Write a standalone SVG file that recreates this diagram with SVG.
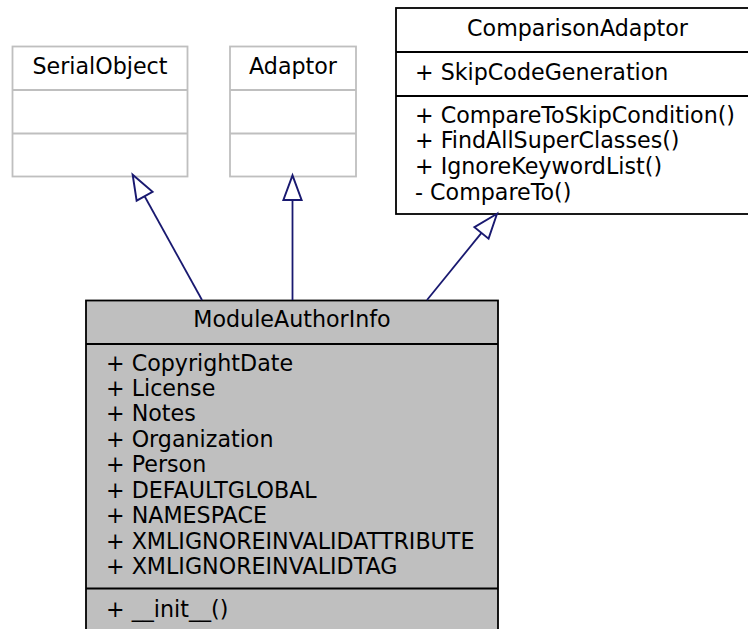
<svg xmlns="http://www.w3.org/2000/svg" width="748" height="629" viewBox="0 0 748 629">
<style>
text{font-family:"DejaVu Sans","Liberation Sans",sans-serif;font-size:22.2px;fill:#000}
.c{text-anchor:middle}
.g{fill:#fff;stroke:#bfbfbf;stroke-width:1.8}
.b{fill:#fff;stroke:#000;stroke-width:1.8}
.m{fill:#bfbfbf;stroke:#000;stroke-width:1.8}
.e{fill:none;stroke:#191970;stroke-width:1.8}
</style>
<defs>
<marker id="ah" markerUnits="userSpaceOnUse" markerWidth="30" markerHeight="30" viewBox="-2 -11 28 22" refX="0" refY="0" orient="auto">
<path d="M23,0 L0,-8.5 L0,8.5 Z" fill="#fff" stroke="#191970" stroke-width="1.8"/>
</marker>
</defs>
<rect width="748" height="629" fill="#fff"/>
<g id="SerialObject">
<rect class="g" x="12.5" y="46.5" width="175" height="130"/>
<line class="g" x1="12.5" y1="90" x2="187.5" y2="90"/>
<line class="g" x1="12.5" y1="133.5" x2="187.5" y2="133.5"/>
<text class="c" x="100" y="73.5">SerialObject</text>
</g>
<g id="Adaptor">
<rect class="g" x="230" y="46.5" width="126" height="130"/>
<line class="g" x1="230" y1="90" x2="356" y2="90"/>
<line class="g" x1="230" y1="133.5" x2="356" y2="133.5"/>
<text class="c" x="293" y="73.5">Adaptor</text>
</g>
<g id="ComparisonAdaptor">
<rect class="b" x="396" y="8" width="362" height="206"/>
<line class="b" x1="396" y1="52" x2="758" y2="52"/>
<line class="b" x1="396" y1="96" x2="758" y2="96"/>
<text class="c" x="577.5" y="35.5">ComparisonAdaptor</text>
<text x="415" y="79.5">+ SkipCodeGeneration</text>
<text x="415" y="122.7">+ CompareToSkipCondition()</text>
<text x="415" y="148.3">+ FindAllSuperClasses()</text>
<text x="415" y="173.9">+ IgnoreKeywordList()</text>
<text x="415" y="199.5">- CompareTo()</text>
</g>
<g id="ModuleAuthorInfo">
<rect class="m" x="86" y="300.5" width="412" height="330"/>
<line class="m" x1="86" y1="344" x2="498" y2="344"/>
<line class="m" x1="86" y1="588.5" x2="498" y2="588.5"/>
<text class="c" x="292" y="326.7">ModuleAuthorInfo</text>
<text x="106" y="370.5">+ CopyrightDate</text>
<text x="106" y="396">+ License</text>
<text x="106" y="421.4">+ Notes</text>
<text x="106" y="446.9">+ Organization</text>
<text x="106" y="472.4">+ Person</text>
<text x="106" y="497.7">+ DEFAULTGLOBAL</text>
<text x="106" y="523.2">+ NAMESPACE</text>
<text x="106" y="548.6">+ XMLIGNOREINVALIDATTRIBUTE</text>
<text x="106" y="574">+ XMLIGNOREINVALIDTAG</text>
<text x="106" y="616.7">+ __init__()</text>
</g>
<g id="connectors">
<path class="e" d="M202,300 L144.6,196.3" marker-end="url(#ah)"/>
<path class="e" d="M292.5,300 L292.5,200" marker-end="url(#ah)"/>
<path class="e" d="M427,300 L481.5,232.9" marker-end="url(#ah)"/>
</g>
</svg>
